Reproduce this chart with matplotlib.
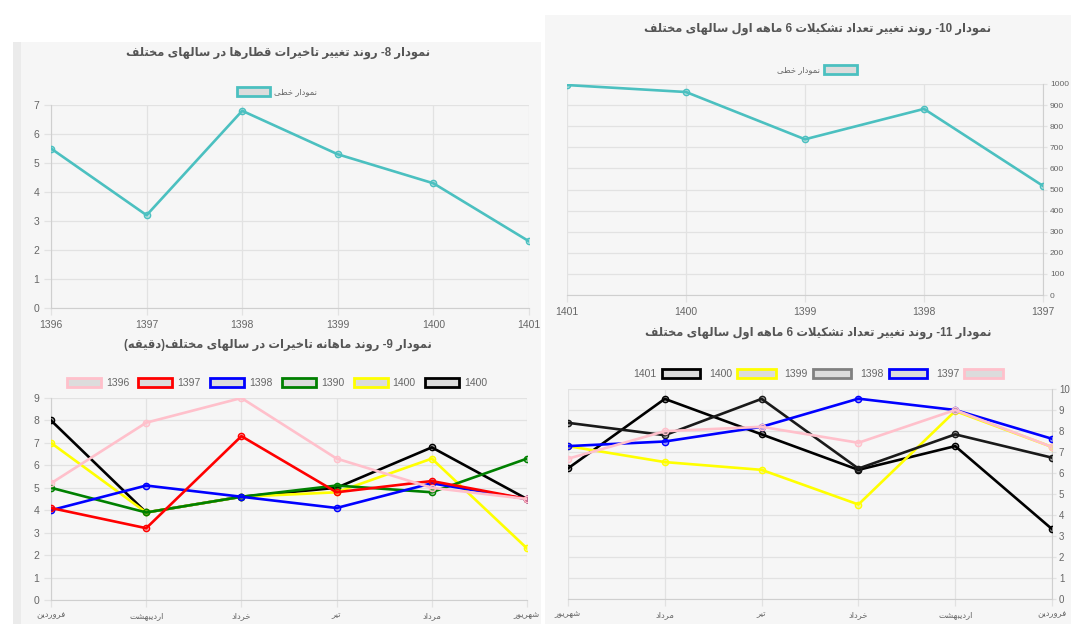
import re
import numpy as np
import matplotlib
matplotlib.use("Agg")
import matplotlib.pyplot as plt
from matplotlib.patches import Rectangle, Patch
from matplotlib.colors import to_rgba

plt.rcParams['font.family'] = ['Liberation Sans', 'DejaVu Sans']

# ---- Persian shaping (matplotlib has no bidi / joining support) ----
FORMS = {
    'ا': ('\uFE8D', '\uFE8E', None, None),
    'ب': ('\uFE8F', '\uFE90', '\uFE91', '\uFE92'),
    'ت': ('\uFE95', '\uFE96', '\uFE97', '\uFE98'),
    'خ': ('\uFEA5', '\uFEA6', '\uFEA7', '\uFEA8'),
    'د': ('\uFEA9', '\uFEAA', None, None),
    'ر': ('\uFEAD', '\uFEAE', None, None),
    'س': ('\uFEB1', '\uFEB2', '\uFEB3', '\uFEB4'),
    'ش': ('\uFEB5', '\uFEB6', '\uFEB7', '\uFEB8'),
    'ط': ('\uFEC1', '\uFEC2', '\uFEC3', '\uFEC4'),
    'ع': ('\uFEC9', '\uFECA', '\uFECB', '\uFECC'),
    'غ': ('\uFECD', '\uFECE', '\uFECF', '\uFED0'),
    'ف': ('\uFED1', '\uFED2', '\uFED3', '\uFED4'),
    'ق': ('\uFED5', '\uFED6', '\uFED7', '\uFED8'),
    'ک': ('\uFB8E', '\uFB8F', '\uFB90', '\uFB91'),
    'ل': ('\uFEDD', '\uFEDE', '\uFEDF', '\uFEE0'),
    'م': ('\uFEE1', '\uFEE2', '\uFEE3', '\uFEE4'),
    'ن': ('\uFEE5', '\uFEE6', '\uFEE7', '\uFEE8'),
    'ه': ('\uFEE9', '\uFEEA', '\uFEEB', '\uFEEC'),
    'و': ('\uFEED', '\uFEEE', None, None),
    'ی': ('\uFBFC', '\uFBFD', '\uFBFE', '\uFBFF'),
}


def fa(text):
    def joins_next(c):
        return c in FORMS and FORMS[c][2] is not None
    res = []
    i = 0
    while i < len(text):
        c = text[i]
        if c not in FORMS:
            res.append(c)
            i += 1
            continue
        prev_j = i > 0 and joins_next(text[i - 1])
        if c == 'ل' and i + 1 < len(text) and text[i + 1] == 'ا':
            res.append('\uFEFC' if prev_j else '\uFEFB')
            i += 2
            continue
        next_j = joins_next(c) and i + 1 < len(text) and text[i + 1] in FORMS
        iso, fin, ini, med = FORMS[c]
        res.append(med if prev_j and next_j else fin if prev_j else ini if next_j else iso)
        i += 1
    toks = re.findall(r'[0-9]+|.', ''.join(res))
    return ''.join(toks[::-1]).translate(str.maketrans('()', ')('))


# ---- data ----
years8 = [1396, 1397, 1398, 1399, 1400, 1401]
delay8 = [5.5, 3.2, 6.8, 5.3, 4.3, 2.3]

months = ['فروردین', 'اردیبهشت', 'خرداد', 'تیر', 'مرداد', 'شهریور']
labels9 = ['1396', '1397', '1398', '1390', '1400', '1400']
colors9 = ['pink', 'red', 'blue', 'green', 'yellow', 'black']
values9 = [
    [5.2, 7.9, 9.0, 6.3, 5.0, 4.5],
    [4.1, 3.2, 7.3, 4.8, 5.3, 4.5],
    [4.0, 5.1, 4.6, 4.1, 5.2, 4.5],
    [5.0, 3.9, 4.6, 5.1, 4.8, 6.3],
    [7.0, 3.9, 4.6, 4.8, 6.3, 2.3],
    [8.0, 3.9, 4.6, 5.0, 6.8, 4.5],
]

years10 = [1397, 1398, 1399, 1400, 1401]
count10 = [517, 882, 738, 962, 995]

labels11 = ['1397', '1398', '1399', '1400', '1401']
colors11 = ['pink', 'blue', '#1a1a1a', 'yellow', 'black']
legend11 = ['pink', 'blue', 'gray', 'yellow', 'black']
values11 = [
    [7.24, 9.00, 7.44, 8.20, 7.99, 6.68],
    [7.63, 9.00, 9.54, 8.20, 7.50, 7.28],
    [6.73, 7.84, 6.21, 9.53, 7.80, 8.39],
    [7.24, 8.95, 4.50, 6.15, 6.52, 7.28],
    [3.33, 7.28, 6.15, 7.84, 9.53, 6.22],
]

W, H = 1071, 624
PANEL = '#f6f6f6'
GRID = '#e2e2e2'
TXT = '#666666'

fig = plt.figure(figsize=(W / 100, H / 100), dpi=100)
fig.patch.set_facecolor('white')


def px_rect(x0, y0, x1, y1, color):
    fig.patches.append(Rectangle((x0 / W, 1 - y1 / H), (x1 - x0) / W, (y1 - y0) / H,
                                 transform=fig.transFigure, facecolor=color,
                                 edgecolor='none', zorder=-10))


px_rect(13, 42, 541, H, PANEL)
px_rect(13, 42, 21, H, '#ebebeb')
px_rect(545, 15, W, H, PANEL)


def make_ax(x0, y0, x1, y1):
    return fig.add_axes([x0 / W, 1 - y1 / H, (x1 - x0) / W, (y1 - y0) / H])


def style(ax, right=False):
    ax.set_facecolor('none')
    ax.grid(True, color=GRID, linewidth=0.9)
    ax.set_axisbelow(True)
    for s in ax.spines.values():
        s.set_visible(False)
    ax.spines['bottom'].set_visible(True)
    ax.spines['bottom'].set_color('#cfcfcf')
    side = 'right' if right else 'left'
    ax.spines[side].set_visible(True)
    ax.spines[side].set_color('#cfcfcf')
    ax.tick_params(colors=GRID, labelcolor=TXT, labelsize=7.5, length=5, width=0.9)
    if right:
        ax.yaxis.tick_right()
        ax.tick_params(axis='y', length=3, pad=2)


def title(x, y, text):
    fig.text(x / W, 1 - y / H, fa(text), ha='center', va='center',
             fontsize=8.3, color='#555555', fontweight='bold')


def box_handles(edges):
    return [Patch(facecolor='#dcdcdc', edgecolor=c, linewidth=2) for c in edges]


def draw_lines(ax, x, series, colors, lw=1.9):
    n = len(series)
    for k, (vals, c) in enumerate(zip(series, colors)):
        ax.plot(x, vals, color=c, linewidth=lw, marker='o', markersize=4.5,
                markerfacecolor=to_rgba(c, 0.35), markeredgecolor=c,
                markeredgewidth=1, zorder=3 + n - k)


# ---- chart 8 ----
title(278, 53, 'نمودار 8- روند تغییر تاخیرات قطارها در سالهای مختلف')
ax8 = make_ax(51, 105, 529, 308)
style(ax8)
draw_lines(ax8, years8, [delay8], ['#4bc0c0'])
ax8.set_xlim(years8[0], years8[-1])
ax8.set_ylim(0, 7)
ax8.set_xticks(years8)
ax8.set_yticks(range(0, 8))
ax8.legend(box_handles(['#4bc0c0']), [fa('نمودار خطی')], loc='center',
           bbox_to_anchor=(277 / W, 1 - 92 / H), bbox_transform=fig.transFigure,
           frameon=False, fontsize=6, handlelength=4.0, handleheight=1.2,
           handletextpad=0.5, labelcolor=TXT)

# ---- chart 9 ----
title(278, 345, 'نمودار 9- روند ماهانه تاخیرات در سالهای مختلف(دقیقه)')
ax9 = make_ax(51, 398, 527, 600)
style(ax9)
x9 = np.arange(len(months))
draw_lines(ax9, x9, values9, colors9)
ax9.set_xlim(0, len(months) - 1)
ax9.set_ylim(0, 9)
ax9.set_yticks(range(0, 10))
ax9.set_xticks(x9)
ax9.set_xticklabels([fa(m) for m in months], fontsize=6)
ax9.legend(box_handles(colors9), labels9, loc='center', ncol=6,
           bbox_to_anchor=(277 / W, 1 - 383 / H), bbox_transform=fig.transFigure,
           frameon=False, fontsize=7.5, handlelength=3.27, handleheight=0.95,
           handletextpad=0.48, columnspacing=0.9, labelcolor=TXT)

# ---- chart 10 ----
title(818, 29, 'نمودار 10- روند تغییر تعداد تشکیلات 6 ماهه اول سالهای مختلف')
ax10 = make_ax(567, 84, 1043, 295)
style(ax10, right=True)
draw_lines(ax10, years10, [count10], ['#4bc0c0'])
ax10.set_xlim(years10[-1], years10[0])
ax10.set_ylim(0, 1000)
ax10.set_xticks(years10)
ax10.set_yticks(range(0, 1001, 100))
ax10.tick_params(axis='y', labelsize=6)
ax10.legend(box_handles(['#4bc0c0']), [fa('نمودار خطی')], loc='center',
            bbox_to_anchor=(817 / W, 1 - 70 / H), bbox_transform=fig.transFigure,
            frameon=False, fontsize=6, handlelength=4.0, handleheight=1.2,
            handletextpad=0.5, markerfirst=False, labelcolor=TXT)

# ---- chart 11 ----
title(818, 333, 'نمودار 11- روند تغییر تعداد تشکیلات 6 ماهه اول سالهای مختلف')
ax11 = make_ax(568, 389, 1052, 599)
style(ax11, right=True)
x11 = np.arange(len(months))
draw_lines(ax11, x11, values11, colors11)
ax11.set_xlim(len(months) - 1, 0)
ax11.set_ylim(0, 10)
ax11.set_yticks(range(0, 11))
ax11.tick_params(axis='y', labelsize=7)
ax11.set_xticks(x11)
ax11.set_xticklabels([fa(m) for m in months], fontsize=6)
ax11.legend(box_handles(legend11)[::-1], labels11[::-1], loc='center', ncol=5,
            bbox_to_anchor=(818 / W, 1 - 374 / H), bbox_transform=fig.transFigure,
            frameon=False, fontsize=7.5, handlelength=3.7, handleheight=0.95,
            handletextpad=0.48, columnspacing=0.85, markerfirst=False, labelcolor=TXT)

fig.savefig('out.png', dpi=100, facecolor='white')
